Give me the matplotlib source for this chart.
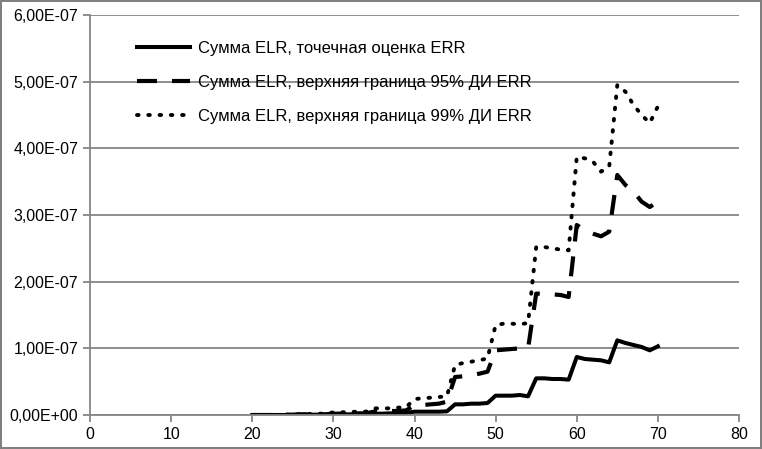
import numpy as np
import matplotlib.pyplot as plt
from matplotlib.ticker import FuncFormatter, MultipleLocator

plt.rcParams['font.family'] = ['Liberation Sans', 'DejaVu Sans']

age = np.arange(20, 71)

# values in units of 1e-7
est = [0.0, 0.0, 0.0, 0.0, 0.0, 0.0, 0.005, 0.005, 0.005, 0.005,
       0.01, 0.01, 0.01, 0.012, 0.012,
       0.02, 0.02, 0.025, 0.025, 0.03,
       0.05, 0.05, 0.05, 0.05, 0.055,
       0.16, 0.16, 0.17, 0.17, 0.18,
       0.29, 0.29, 0.29, 0.30, 0.28,
       0.55, 0.55, 0.54, 0.54, 0.53,
       0.87, 0.84, 0.83, 0.82, 0.79,
       1.12, 1.08, 1.05, 1.02, 0.97,
       1.03]
up95 = [0.0, 0.0, 0.0, 0.0, 0.005, 0.005, 0.01, 0.01, 0.01, 0.01,
        0.02, 0.02, 0.02, 0.025, 0.025,
        0.05, 0.05, 0.06, 0.06, 0.07,
        0.15, 0.15, 0.16, 0.17, 0.2,
        0.57, 0.58, 0.6, 0.62, 0.65,
        0.97, 0.98, 0.99, 1.0, 1.0,
        1.82, 1.82, 1.81, 1.8, 1.77,
        2.85, 2.77, 2.72, 2.68, 2.75,
        3.6, 3.45, 3.35, 3.2, 3.12,
        3.2]
up99 = [0.0, 0.0, 0.0, 0.0, 0.005, 0.01, 0.01, 0.015, 0.02, 0.02,
        0.04, 0.04, 0.045, 0.05, 0.05,
        0.1, 0.1, 0.1, 0.11, 0.12,
        0.24, 0.25, 0.26, 0.27, 0.28,
        0.75, 0.78, 0.8, 0.82, 0.85,
        1.35, 1.37, 1.37, 1.36, 1.38,
        2.52, 2.52, 2.5, 2.48, 2.47,
        3.87, 3.85, 3.8, 3.65, 3.72,
        4.95, 4.85, 4.65, 4.5, 4.38,
        4.63]

labels = ['Сумма ELR, точечная оценка ERR',
          'Сумма ELR, верхняя граница 95% ДИ ERR',
          'Сумма ELR, верхняя граница 99% ДИ ERR']

fig = plt.figure(figsize=(7.62, 4.49), dpi=100)
fig.patch.set_edgecolor('#808080')
fig.patch.set_linewidth(1.5)
ax = fig.add_axes([90/762, 34/449, 649/762, 400/449])

gray = '#868686'
ax.plot(age, np.array(est)*1e-7, color='black', lw=2.9, label=labels[0],
        solid_joinstyle='round')
ax.plot(age, np.array(up95)*1e-7, color='black', lw=3.0, label=labels[1],
        linestyle=(0, (4.8, 3.6)), dash_capstyle='butt')
ax.plot(age, np.array(up99)*1e-7, color='black', lw=2.8, label=labels[2],
        linestyle=(0, (0.4, 2.5)), dash_capstyle='round')

ax.set_xlim(0, 80)
ax.set_ylim(0, 6e-7)
ax.xaxis.set_major_locator(MultipleLocator(10))
ax.yaxis.set_major_locator(MultipleLocator(1e-7))
ax.yaxis.set_major_formatter(FuncFormatter(lambda v, p: f"{v:.2E}".replace('.', ',')))
ax.grid(axis='y', color=gray, lw=1.3)
ax.set_axisbelow(True)
for s in ['top', 'right']:
    ax.spines[s].set_visible(False)
for s in ['left', 'bottom']:
    ax.spines[s].set_color(gray)
    ax.spines[s].set_linewidth(1.3)
ax.tick_params(colors=gray, length=5, width=1.3, labelcolor='black', labelsize=11.5)

ax.legend(loc='upper left', bbox_to_anchor=(137/762, 1 - 41/449),
          bbox_transform=fig.transFigure, frameon=False, fontsize=12,
          handlelength=3.2, handletextpad=0.45, labelspacing=1.15,
          borderaxespad=0, borderpad=0)

fig.savefig('out.png', dpi=100)
